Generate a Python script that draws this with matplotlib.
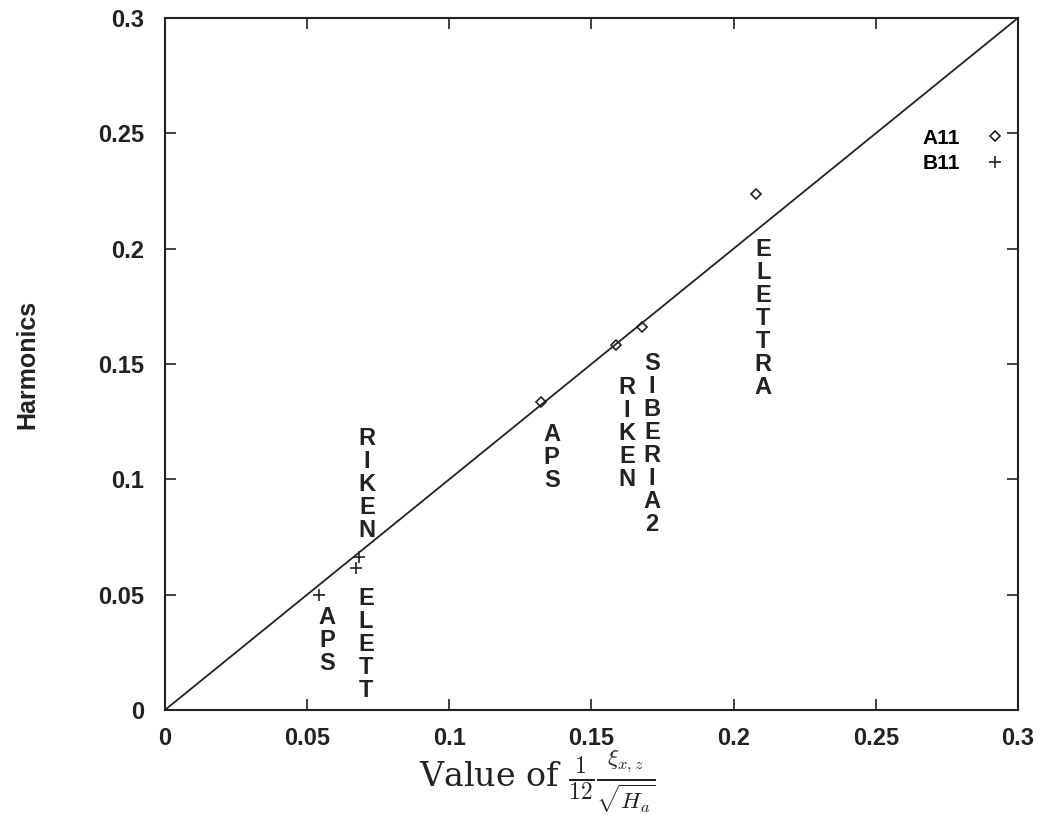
import matplotlib
matplotlib.use("Agg")
import matplotlib.pyplot as plt

# A11 harmonics (diamonds) and B11 harmonics (plus)
a11_x = [0.1323, 0.1586, 0.1678, 0.2079]
a11_y = [0.1335, 0.1582, 0.166, 0.2237]
b11_x = [0.0542, 0.0682, 0.0672]
b11_y = [0.0498, 0.0663, 0.0615]
diag = [0.0, 0.3]

# vertical source labels: (text, x, y-top)
labels_a = [("APS", 0.136, 0.1245), ("RIKEN", 0.1625, 0.145),
            ("SIBERIA2", 0.1713, 0.155), ("ELETTRA", 0.2104, 0.2045)]
labels_b = [("APS", 0.057, 0.045), ("RIKEN", 0.0711, 0.1228),
            ("ELETT", 0.0707, 0.0535)]

xticks = [0, 0.05, 0.1, 0.15, 0.2, 0.25, 0.3]
xtick_labels = ["0", "0.05", "0.1", "0.15", "0.2", "0.25", "0.3"]

plt.rcParams["font.family"] = ["Liberation Sans", "DejaVu Sans"]
plt.rcParams["mathtext.fontset"] = "cm"

fig = plt.figure(figsize=(10.46, 8.17), dpi=100)
ax = fig.add_axes([0.1577, 0.131, 0.8155, 0.847])

ax.plot(diag, diag, color="#222222", lw=1.3)
ax.plot(a11_x, a11_y, ls="none", marker="D", ms=5, mfc="none",
        mec="#222222", mew=1.2, label="A11")
ax.plot(b11_x, b11_y, ls="none", marker="+", ms=8, color="#222222",
        mew=1.2, label="B11")

for name, x, y in labels_a + labels_b:
    ax.text(x, y, "\n".join(name), ha="center", va="top", fontsize=17,
            fontweight="bold", linespacing=1.0, color="#222222")

ax.set_xlim(0, 0.3)
ax.set_ylim(0, 0.3)
ax.set_xticks(xticks)
ax.set_xticklabels(xtick_labels)
ax.set_yticks(xticks)
ax.set_yticklabels(xtick_labels)
ax.tick_params(direction="in", length=8, width=1.2, top=True, right=True,
               labelsize=17, colors="#222222")
ax.tick_params(axis="y", pad=15)
ax.tick_params(axis="x", pad=12)
for lbl in ax.get_xticklabels() + ax.get_yticklabels():
    lbl.set_fontweight("bold")
for s in ax.spines.values():
    s.set_linewidth(1.5)
    s.set_color("#222222")

ax.set_ylabel("Harmonics", fontsize=18, fontweight="bold", labelpad=42,
              color="#222222")
fig.text(0.514, 0.002, r"Value of $\frac{1}{12}\frac{\xi_{x,z}}{\sqrt{H_a}}$",
         ha="center", va="bottom", fontsize=24, family="DejaVu Serif",
         color="#222222")

ax.legend(loc="upper right", bbox_to_anchor=(1.0, 0.852), frameon=False,
          markerfirst=False, handlelength=1.4, borderaxespad=0,
          handletextpad=1.0, labelspacing=0.3,
          prop={"weight": "bold", "size": 15})

fig.savefig("out.png", dpi=100)
